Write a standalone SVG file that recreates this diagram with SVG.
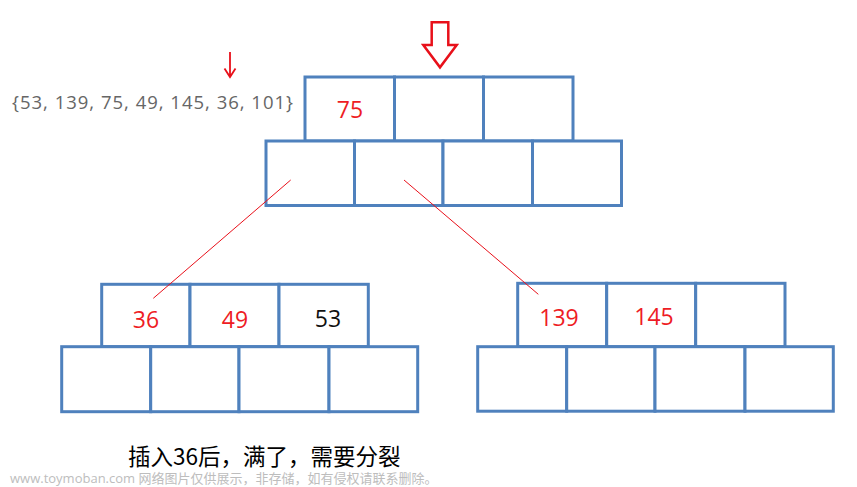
<svg xmlns="http://www.w3.org/2000/svg" width="857" height="487" viewBox="0 0 857 487">
<style>
.cell{fill:#fff;stroke:#4f81bd;stroke-width:3}
.num{font-family:"Open Sans","Noto Sans",sans-serif;font-size:23px;text-anchor:middle}
.red{fill:#ee1c24}
.blk{fill:#111}
.link{stroke:#e8101a;stroke-width:1;fill:none}
</style>
<rect width="857" height="487" fill="#fff"/>
<text x="12" y="109" font-family="Open Sans, Noto Sans, sans-serif" font-size="18.5" fill="#666" textLength="281" lengthAdjust="spacing">{53, 139, 75, 49, 145, 36, 101}</text>
<path d="M230 52 V76 M224.5 68.5 L230 77 L235.5 68.5" stroke="#e8101a" stroke-width="1.8" fill="none"/>
<path d="M431.7 22.3 H448.3 V45 H456.7 L440 67.3 L423.3 45 H431.7 Z" fill="none" stroke="#e8101a" stroke-width="2.5"/>
<g id="root">
<rect class="cell" x="305" y="77" width="89.5" height="64"/>
<rect class="cell" x="394.5" y="77" width="89" height="64"/>
<rect class="cell" x="483.5" y="77" width="89.5" height="64"/>
<rect class="cell" x="266" y="141" width="88.5" height="64.5"/>
<rect class="cell" x="354.5" y="141" width="88.5" height="64.5"/>
<rect class="cell" x="443" y="141" width="89.5" height="64.5"/>
<rect class="cell" x="532.5" y="141" width="89" height="64.5"/>
<text class="num red" x="350" y="118">75</text>
</g>
<g id="left">
<rect class="cell" x="101.7" y="284.3" width="88.3" height="62.4"/>
<rect class="cell" x="190" y="284.3" width="89" height="62.4"/>
<rect class="cell" x="279" y="284.3" width="89.3" height="62.4"/>
<rect class="cell" x="61.7" y="346.7" width="89" height="65"/>
<rect class="cell" x="150.7" y="346.7" width="88.3" height="65"/>
<rect class="cell" x="239" y="346.7" width="90" height="65"/>
<rect class="cell" x="329" y="346.7" width="88.7" height="65"/>
<text class="num red" x="146" y="328" font-size="22">36</text>
<text class="num red" x="235" y="328">49</text>
<text class="num blk" x="328" y="327">53</text>
</g>
<g id="right">
<rect class="cell" x="517.7" y="283.3" width="89" height="63.4"/>
<rect class="cell" x="606.7" y="283.3" width="89" height="63.4"/>
<rect class="cell" x="695.7" y="283.3" width="89.3" height="63.4"/>
<rect class="cell" x="477.7" y="346.7" width="89" height="64.5"/>
<rect class="cell" x="566.7" y="346.7" width="88.3" height="64.5"/>
<rect class="cell" x="655" y="346.7" width="90" height="64.5"/>
<rect class="cell" x="745" y="346.7" width="88.3" height="64.5"/>
<text class="num red" x="559" y="326" font-size="24">139</text>
<text class="num red" x="654" y="325">145</text>
</g>
<g id="connectors">
<line class="link" x1="290.7" y1="180" x2="153.3" y2="298.3"/>
<line class="link" x1="404" y1="180" x2="538.3" y2="294.3"/>
</g>
<text x="128" y="465" font-family="Noto Sans CJK SC, sans-serif" font-size="22.5" fill="#000">插入36后，满了，需要分裂</text>
<text x="10" y="483" font-family="Open Sans, Noto Sans CJK SC, sans-serif" font-size="13" fill="#bdbdbd">www.toymoban.com 网络图片仅供展示，非存储，如有侵权请联系删除。</text>
</svg>
